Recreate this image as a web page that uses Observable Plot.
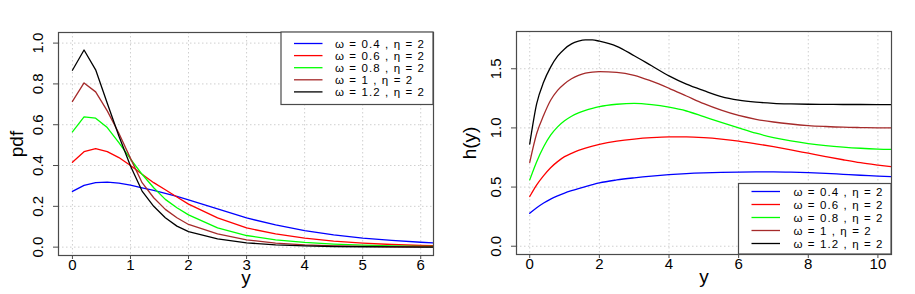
<!DOCTYPE html>
<html>
<head>
<meta charset="utf-8">
<script src="https://cdn.jsdelivr.net/npm/d3@7"></script>
<script src="https://cdn.jsdelivr.net/npm/@observablehq/plot@0.6"></script>
<style>
  html, body { margin: 0; padding: 0; background: #fff; }
  #wrap { display: flex; width: 915px; height: 294px; }
  svg { font-family: "Liberation Sans", Arial, sans-serif; }
</style>
</head>
<body>
<div id="wrap"></div>
<script>
// ---------- data ----------
const seriesLabels = ["ω = 0.4 , η = 2", "ω = 0.6 , η = 2", "ω = 0.8 , η = 2", "ω = 1 , η = 2", "ω = 1.2 , η = 2"];
const seriesColors = ["#0000FF", "#FF0000", "#00FF00", "#A52A2A", "#000000"];

const pdfX = [0,0.2,0.4,0.6,0.8,1.0,1.2,1.4,1.6,1.8,2.0,2.5,3.0,3.5,4.0,4.5,5.0,5.5,6.0,6.5];
const pdf04 = [0.273,0.303,0.316,0.319,0.314,0.304,0.291,0.278,0.264,0.249,0.232,0.187,0.143,0.109,0.081,0.060,0.044,0.033,0.024,0.017];
const pdf06 = [0.416,0.468,0.483,0.468,0.439,0.400,0.357,0.316,0.281,0.246,0.211,0.143,0.094,0.065,0.044,0.029,0.020,0.013,0.008,0.005];
const pdf08 = [0.565,0.638,0.632,0.586,0.512,0.432,0.357,0.291,0.234,0.193,0.158,0.094,0.057,0.036,0.023,0.015,0.010,0.006,0.004,0.002];
const pdf10 = [0.714,0.805,0.761,0.668,0.558,0.435,0.316,0.242,0.185,0.144,0.111,0.065,0.036,0.020,0.011,0.006,0.004,0.002,0.001,0.001];
const pdf12 = [0.867,0.966,0.869,0.705,0.545,0.398,0.275,0.200,0.144,0.103,0.076,0.041,0.021,0.011,0.006,0.003,0.002,0.001,0.000,0.000];

const hX = [0,0.2,0.4,0.6,0.8,1.0,1.2,1.4,1.6,1.8,2.0,2.5,3,3.5,4,4.5,5,5.5,6,6.5,7,7.5,8,8.5,9,9.5,10,10.5];
const h04 = [0.278,0.325,0.365,0.398,0.425,0.449,0.469,0.487,0.504,0.520,0.535,0.560,0.578,0.593,0.605,0.614,0.620,0.624,0.627,0.628,0.628,0.626,0.622,0.616,0.608,0.600,0.593,0.586];
const h06 = [0.420,0.519,0.597,0.664,0.715,0.757,0.785,0.810,0.830,0.847,0.861,0.888,0.906,0.918,0.924,0.924,0.918,0.906,0.889,0.866,0.841,0.814,0.786,0.758,0.731,0.706,0.686,0.668];
const h08 = [0.561,0.715,0.841,0.939,1.009,1.060,1.099,1.127,1.149,1.166,1.180,1.200,1.208,1.197,1.175,1.143,1.095,1.047,1.000,0.955,0.918,0.890,0.868,0.851,0.838,0.828,0.821,0.817];
const h10 = [0.709,0.953,1.107,1.234,1.318,1.374,1.416,1.444,1.463,1.472,1.475,1.470,1.445,1.395,1.335,1.270,1.205,1.150,1.105,1.073,1.050,1.033,1.020,1.012,1.006,1.003,1.001,1.000];
const h12 = [0.864,1.205,1.388,1.514,1.606,1.668,1.710,1.733,1.744,1.744,1.733,1.690,1.610,1.525,1.440,1.370,1.315,1.265,1.235,1.218,1.208,1.203,1.200,1.199,1.198,1.198,1.197,1.197];

const pdfXTicks = [0,1,2,3,4,5,6];
const pdfYTicks = [0,0.2,0.4,0.6,0.8,1.0];
const hXTicks = [0,2,4,6,8,10];
const hYTicks = [0,0.5,1.0,1.5];

// ---------- build tables ----------
function longTable(xs, arrays) {
  const rows = [];
  arrays.forEach((arr, s) => arr.forEach((v, i) => rows.push({x: xs[i], v, s})));
  return rows;
}
const pdfRows = longTable(pdfX, [pdf04, pdf06, pdf08, pdf10, pdf12]);
const hRows = longTable(hX, [h04, h06, h08, h10, h12]);

const fontFam = "Liberation Sans, Arial, sans-serif";

function panel({rows, xTicks, yTicks, xDomain, yDomain, width, mL, mR, mT, mB, ylab, ylabDx, curve, yFmt}) {
  const gridStyle = {stroke: "#cfcfcf", strokeOpacity: 1, strokeDasharray: "1.5,2.5", strokeWidth: 1};
  return Plot.plot({
    width, height: 294,
    marginLeft: mL, marginRight: mR, marginTop: mT, marginBottom: mB,
    style: {fontFamily: fontFam, fontSize: "15px", color: "#000", background: "#fff", overflow: "visible"},
    x: {domain: xDomain, label: null},
    y: {domain: yDomain, label: null},
    marks: [
      Plot.ruleX(xTicks, gridStyle),
      Plot.ruleY(yTicks, gridStyle),
      Plot.line(rows, {x: "x", y: "v", z: "s", stroke: d => seriesColors[d.s], strokeWidth: 1.3, curve, clip: true}),
      Plot.frame({stroke: "#4a4a4a", strokeWidth: 1.2}),
      Plot.axisX({ticks: xTicks, tickSize: 4, tickPadding: 0, tickFormat: d => String(d), fontSize: 15, label: null, stroke: "#4a4a4a"}),
      Plot.axisY({ticks: yTicks, tickSize: 5, tickFormat: () => "", label: null, stroke: "#4a4a4a"}),
      Plot.text(yTicks, {y: d => d, text: d => yFmt(d), frameAnchor: "left", dx: -20, rotate: -90, textAnchor: "middle", lineAnchor: "middle", fontSize: 15, fill: "#000"}),
      Plot.text([ylab], {text: d => d, frameAnchor: "left", dx: ylabDx, rotate: -90, textAnchor: "middle", lineAnchor: "middle", fontSize: 19, fill: "#000"}),
      Plot.text(["y"], {text: d => d, frameAnchor: "bottom", dy: 14.5, lineAnchor: "top", fontSize: 19, fill: "#000"})
    ]
  });
}

function addLegend(svgNode, {x0, x1, y0, y1, lineX0, lineX1, textX, rowY0, rowStep}) {
  const svg = d3.select(svgNode);
  const g = svg.append("g").attr("font-family", fontFam).attr("font-size", 11.5).attr("text-anchor", "start");
  g.append("rect").attr("x", x0).attr("y", y0).attr("width", x1 - x0).attr("height", y1 - y0)
    .attr("fill", "#fff").attr("stroke", "#4a4a4a").attr("stroke-width", 1.2);
  seriesLabels.forEach((lab, i) => {
    const yy = rowY0 + i * rowStep;
    g.append("line").attr("x1", lineX0).attr("x2", lineX1).attr("y1", yy).attr("y2", yy)
      .attr("stroke", seriesColors[i]).attr("stroke-width", 1.3);
    g.append("text").attr("x", textX).attr("y", yy).attr("dy", "0.35em").attr("fill", "#000")
      .attr("text-anchor", "start").attr("letter-spacing", "1.1px").text(lab);
  });
}

const left = panel({
  rows: pdfRows, xTicks: pdfXTicks, yTicks: pdfYTicks,
  xDomain: [-0.24, 6.22], yDomain: [-0.041, 1.052],
  width: 458, mL: 58, mR: 25, mT: 32, mB: 39,
  ylab: "pdf", ylabDx: -41.5, curve: "linear", yFmt: d => d.toFixed(1)
});
const right = panel({
  rows: hRows, xTicks: hXTicks, yTicks: hYTicks,
  xDomain: [-0.38, 10.39], yDomain: [-0.07, 1.815],
  width: 457, mL: 58, mR: 24, mT: 31, mB: 40,
  ylab: "h(y)", ylabDx: -47, curve: "monotone-x", yFmt: d => d.toFixed(1)
});

addLegend(left, {x0: 281, x1: 433, y0: 32, y1: 104.5, lineX0: 294, lineX1: 322.5, textX: 335, rowY0: 43.5, rowStep: 12.1});
addLegend(right, {x0: 280.5, x1: 433, y0: 183.5, y1: 254, lineX0: 293.5, lineX1: 322, textX: 335.5, rowY0: 191.5, rowStep: 13});

document.getElementById("wrap").append(left, right);
</script>
</body>
</html>
